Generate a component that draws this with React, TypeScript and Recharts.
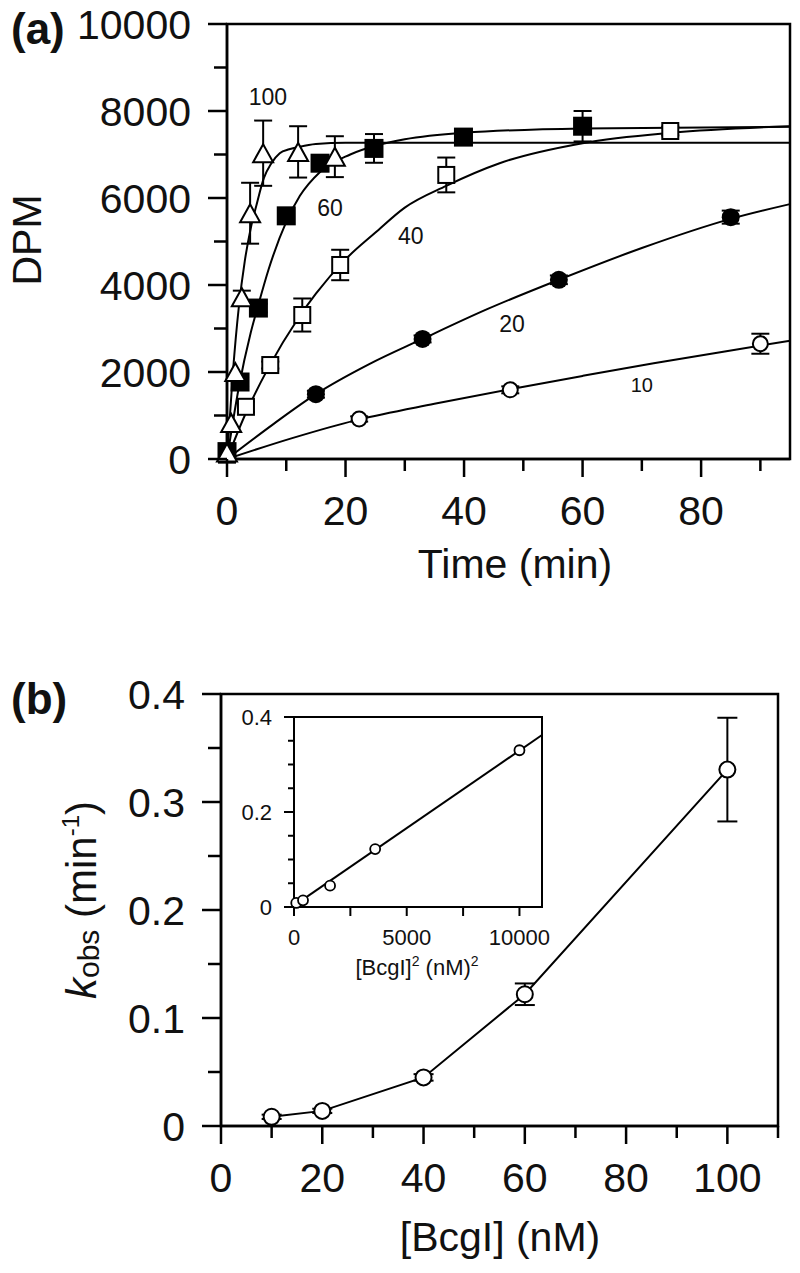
import React from 'react';
import { ComposedChart, Line, Scatter, XAxis, YAxis, ErrorBar, ReferenceArea } from 'recharts';

const FONT = '"Liberation Sans", Arial, Helvetica, sans-serif';

// ---------- panel (a): DPM vs time, one set per [BcgI] (nM) ----------
// measured points (time min, DPM, error)
const t100 = [0, 0.7, 1.4, 2.5, 3.9, 6.1, 12, 18.2];
const dpm100 = [150, 830, 2000, 3720, 5650, 7030, 7060, 6950];
const err100 = [0, 0, 0, 150, 700, 750, 590, 470];

const t60 = [0, 2.2, 5.3, 10, 15.7, 24.8, 39.9, 60];
const dpm60 = [170, 1770, 3470, 5590, 6800, 7140, 7400, 7650];
const err60 = [0, 100, 100, 0, 150, 330, 150, 350];

const t40 = [0, 3.2, 7.3, 12.7, 19.1, 37, 74.8];
const dpm40 = [100, 1200, 2160, 3310, 4460, 6530, 7540];
const err40 = [0, 120, 80, 380, 350, 400, 100];

const t20 = [15, 33, 56, 85];
const dpm20 = [1490, 2760, 4120, 5560];
const err20 = [80, 80, 100, 150];

const t10 = [22.3, 47.8, 90];
const dpm10 = [920, 1590, 2650];
const err10 = [60, 80, 230];

// fitted curves
const fit100T = [0, 1, 2, 3, 4, 5, 6.2, 7.5, 8.9, 10.5, 12.3, 15, 20, 30, 95];
const fit100 = [0, 2000, 3500, 4550, 5300, 5850, 6450, 6800, 7030, 7120, 7180, 7240, 7270, 7270, 7270];
const fit60T = [0, 2, 4, 5.3, 7, 10, 12.3, 15.7, 20.8, 25, 30, 40, 60, 95];
const fit60 = [0, 1650, 2900, 3550, 4350, 5450, 6050, 6600, 7000, 7200, 7350, 7500, 7600, 7640];
const fit40T = [0, 3, 7, 12, 15, 20, 25, 30, 37, 46, 60, 75, 95];
const fit40 = [0, 1000, 2100, 3230, 3800, 4590, 5200, 5780, 6280, 6800, 7260, 7500, 7650];
const fit20T = [0, 8, 15, 24, 33, 44, 56, 70, 85, 95];
const fit20 = [0, 820, 1490, 2180, 2760, 3450, 4120, 4850, 5520, 5860];
const fit10T = [0, 11, 22, 35, 48, 60, 72, 84, 95];
const fit10 = [0, 480, 900, 1270, 1610, 1910, 2200, 2470, 2720];

// curve labels
const curveLabelText = ['100', '60', '40', '20', '10'];
const curveLabelX = [6.9, 17.4, 31, 48.1, 70];
const curveLabelY = [8320, 5770, 5130, 3100, 1700];

const timeTicks = [0, 10, 20, 30, 40, 50, 60, 70, 80, 90];
const timeMajor = [0, 20, 40, 60, 80];
const dpmTicks = [0, 1000, 2000, 3000, 4000, 5000, 6000, 7000, 8000, 9000, 10000];
const dpmMajor = [0, 2000, 4000, 6000, 8000, 10000];

// ---------- panel (b): kobs vs [BcgI] ----------
const conc = [10, 20, 40, 60, 100];
const kobs = [0.0085, 0.014, 0.045, 0.122, 0.33];
const kErr = [0.002, 0.002, 0.003, 0.01, 0.048];

const concTicks = [0, 10, 20, 30, 40, 50, 60, 70, 80, 90, 100, 110];
const concMajor = [0, 20, 40, 60, 80, 100];
const kTicks = [0, 0.05, 0.1, 0.15, 0.2, 0.25, 0.3, 0.35, 0.4];
const kMajor = [0, 0.1, 0.2, 0.3, 0.4];

// inset: kobs vs [BcgI]^2
const concSq = [100, 400, 1600, 3600, 10000];
const fitSqX = [0, 11000];
const fitSqY = [0.003, 0.362];
const sqTicks = [0, 2500, 5000, 7500, 10000];
const sqMajor = [0, 5000, 10000];
const insetKTicks = [0, 0.05, 0.1, 0.15, 0.2, 0.25, 0.3, 0.35, 0.4];
const insetKMajor = [0, 0.2, 0.4];

const toPts = (xs: number[], ys: number[], es?: number[]) =>
  xs.map((x, i) => ({ x, y: ys[i], err: es ? es[i] : 0 }));

const isIn = (arr: number[], v: number) => arr.some((m) => Math.abs(m - v) < 1e-9);

// custom tick: draws its own tick mark (major/minor) and a label for majors
const makeTick =
  (
    side: 'bottom' | 'left',
    majors: number[],
    majorLen: number,
    minorLen: number,
    fontSize: number,
    gap: number,
    fmt: (v: number) => string,
    sw: number
  ) =>
  (props: any) => {
    const { x, y, payload } = props;
    const v = payload.value;
    const major = isIn(majors, v);
    const len = major ? majorLen : minorLen;
    if (side === 'bottom') {
      return (
        <g>
          <line x1={x} y1={y} x2={x} y2={y + len} stroke="#000" strokeWidth={sw} />
          {major && (
            <text x={x} y={y + gap} textAnchor="middle" fontSize={fontSize} fontFamily={FONT} fill="#111">
              {fmt(v)}
            </text>
          )}
        </g>
      );
    }
    return (
      <g>
        <line x1={x - len} y1={y} x2={x} y2={y} stroke="#000" strokeWidth={sw} />
        {major && (
          <text x={x - gap} y={y + fontSize * 0.358} textAnchor="end" fontSize={fontSize} fontFamily={FONT} fill="#111">
            {fmt(v)}
          </text>
        )}
      </g>
    );
  };

const fmtInt = (v: number) => String(v);
const fmtDec = (v: number) => (v === 0 ? '0' : v.toFixed(1));

// marker shapes
const triangle = (p: any) => (
  <polygon
    points={`${p.cx},${p.cy - 9} ${p.cx - 10},${p.cy + 9} ${p.cx + 10},${p.cy + 9}`}
    fill="#fff"
    stroke="#000"
    strokeWidth={2}
  />
);
const filledSquare = (p: any) => <rect x={p.cx - 9.5} y={p.cy - 9.5} width={19} height={19} fill="#000" />;
const openSquare = (p: any) => (
  <rect x={p.cx - 8} y={p.cy - 8} width={16} height={16} fill="#fff" stroke="#000" strokeWidth={2} />
);
const filledCircle = (p: any) => <circle cx={p.cx} cy={p.cy} r={9} fill="#000" />;
const openCircle = (r: number, sw: number) => (p: any) =>
  <circle cx={p.cx} cy={p.cy} r={r} fill="#fff" stroke="#000" strokeWidth={sw} />;

const curveLabel = (p: any) => (
  <text
    x={p.cx}
    y={p.cy + p.payload.size * 0.36}
    textAnchor="middle"
    fontSize={p.payload.size}
    fontFamily={FONT}
    fill="#111"
  >
    {p.payload.text}
  </text>
);

const curveLabels = curveLabelText.map((text, i) => ({
  x: curveLabelX[i],
  y: curveLabelY[i],
  text,
  size: text === '10' ? 20 : 23,
}));

const PanelA = () => (
  <ComposedChart width={800} height={600} margin={{ top: 24, right: 10, bottom: 0, left: 0 }}>
    <XAxis
      dataKey="x"
      type="number"
      domain={[0, 95]}
      ticks={timeTicks}
      interval={0}
      height={141}
      tickSize={0}
      tickMargin={0}
      tickLine={false}
      axisLine={{ stroke: '#000', strokeWidth: 2.5 }}
      tick={makeTick('bottom', timeMajor, 18, 12, 41, 66, fmtInt, 2.5)}
    />
    <YAxis
      dataKey="y"
      type="number"
      domain={[0, 10000]}
      ticks={dpmTicks}
      interval={0}
      width={227}
      tickSize={0}
      tickMargin={0}
      tickLine={false}
      axisLine={{ stroke: '#000', strokeWidth: 2.5 }}
      tick={makeTick('left', dpmMajor, 19, 13, 41, 36, fmtInt, 2.5)}
    />
    <ReferenceArea x1={0} x2={95} y1={0} y2={10000} fill="none" stroke="#000" strokeWidth={2.5} />
    <Line data={toPts(fit10T, fit10)} dataKey="y" type="monotone" stroke="#000" strokeWidth={2} dot={false} isAnimationActive={false} />
    <Line data={toPts(fit20T, fit20)} dataKey="y" type="monotone" stroke="#000" strokeWidth={2} dot={false} isAnimationActive={false} />
    <Line data={toPts(fit40T, fit40)} dataKey="y" type="monotone" stroke="#000" strokeWidth={2} dot={false} isAnimationActive={false} />
    <Line data={toPts(fit60T, fit60)} dataKey="y" type="monotone" stroke="#000" strokeWidth={2} dot={false} isAnimationActive={false} />
    <Line data={toPts(fit100T, fit100)} dataKey="y" type="monotone" stroke="#000" strokeWidth={2} dot={false} isAnimationActive={false} />
    <Scatter data={toPts(t10, dpm10, err10)} shape={openCircle(7.5, 2)} isAnimationActive={false}>
      <ErrorBar dataKey="err" direction="y" width={9} stroke="#000" strokeWidth={2} />
    </Scatter>
    <Scatter data={toPts(t20, dpm20, err20)} shape={filledCircle} isAnimationActive={false}>
      <ErrorBar dataKey="err" direction="y" width={9} stroke="#000" strokeWidth={2} />
    </Scatter>
    <Scatter data={toPts(t40, dpm40, err40)} shape={openSquare} isAnimationActive={false}>
      <ErrorBar dataKey="err" direction="y" width={9} stroke="#000" strokeWidth={2} />
    </Scatter>
    <Scatter data={toPts(t60, dpm60, err60)} shape={filledSquare} isAnimationActive={false}>
      <ErrorBar dataKey="err" direction="y" width={9} stroke="#000" strokeWidth={2} />
    </Scatter>
    <Scatter data={toPts(t100, dpm100, err100)} shape={triangle} isAnimationActive={false}>
      <ErrorBar dataKey="err" direction="y" width={9} stroke="#000" strokeWidth={2} />
    </Scatter>
    <Scatter data={curveLabels} shape={curveLabel} isAnimationActive={false} />
  </ComposedChart>
);

const PanelB = () => (
  <ComposedChart width={800} height={653} margin={{ top: 74, right: 22, bottom: 0, left: 0 }}>
    <XAxis
      dataKey="x"
      type="number"
      domain={[0, 110]}
      ticks={concTicks}
      interval={0}
      height={147}
      tickSize={0}
      tickMargin={0}
      tickLine={false}
      axisLine={{ stroke: '#000', strokeWidth: 2.5 }}
      tick={makeTick('bottom', concMajor, 18, 12, 41, 66, fmtInt, 2.5)}
    />
    <YAxis
      dataKey="y"
      type="number"
      domain={[0, 0.4]}
      ticks={kTicks}
      interval={0}
      width={221}
      tickSize={0}
      tickMargin={0}
      tickLine={false}
      axisLine={{ stroke: '#000', strokeWidth: 2.5 }}
      tick={makeTick('left', kMajor, 19, 13, 41, 36, fmtDec, 2.5)}
    />
    <ReferenceArea x1={0} x2={110} y1={0} y2={0.4} fill="none" stroke="#000" strokeWidth={2.5} />
    <Line data={toPts(conc, kobs)} dataKey="y" type="linear" stroke="#000" strokeWidth={2} dot={false} isAnimationActive={false} />
    <Scatter data={toPts(conc, kobs, kErr)} shape={openCircle(8, 2)} isAnimationActive={false}>
      <ErrorBar dataKey="err" direction="y" width={10} stroke="#000" strokeWidth={2} />
    </Scatter>
  </ComposedChart>
);

const Inset = () => (
  <ComposedChart width={330} height={280} margin={{ top: 17, right: 18, bottom: 0, left: 0 }}>
    <XAxis
      dataKey="x"
      type="number"
      domain={[0, 11000]}
      ticks={sqTicks}
      interval={0}
      height={73}
      tickSize={0}
      tickMargin={0}
      tickLine={false}
      axisLine={{ stroke: '#000', strokeWidth: 2 }}
      tick={makeTick('bottom', sqMajor, 9, 9, 22, 38, fmtInt, 2)}
    />
    <YAxis
      dataKey="y"
      type="number"
      domain={[0, 0.4]}
      ticks={insetKTicks}
      interval={0}
      width={64}
      tickSize={0}
      tickMargin={0}
      tickLine={false}
      axisLine={{ stroke: '#000', strokeWidth: 2 }}
      tick={makeTick('left', insetKMajor, 10, 6, 22, 22, fmtDec, 2)}
    />
    <ReferenceArea x1={0} x2={11000} y1={0} y2={0.4} fill="none" stroke="#000" strokeWidth={2} />
    <Line data={toPts(fitSqX, fitSqY)} dataKey="y" type="linear" stroke="#000" strokeWidth={2} dot={false} isAnimationActive={false} />
    <Scatter data={toPts(concSq, kobs)} shape={openCircle(5, 1.8)} isAnimationActive={false} />
  </ComposedChart>
);

const Titles = () => (
  <svg width={800} height={1273} style={{ position: 'absolute', left: 0, top: 0, pointerEvents: 'none' }}>
    <g fontFamily={FONT} fill="#111">
      <text x={11} y={44} fontSize={44} fontWeight="bold">(a)</text>
      <text x={41} y={240} fontSize={41} textAnchor="middle" transform="rotate(-90 41 240)">DPM</text>
      <text x={515} y={578} fontSize={41} textAnchor="middle">Time (min)</text>

      <text x={11} y={714} fontSize={44} fontWeight="bold">(b)</text>
      <text x={96} y={900} fontSize={42} textAnchor="middle" transform="rotate(-90 96 900)">
        <tspan fontStyle="italic">k</tspan>
        <tspan fontSize={30} dy={3}>obs</tspan>
        <tspan dy={-3}> (min</tspan>
        <tspan fontSize={24} dy={-17}>-1</tspan>
        <tspan dy={17}>)</tspan>
      </text>
      <text x={500} y={1251} fontSize={41} textAnchor="middle">[BcgI] (nM)</text>

      <text x={417} y={975} fontSize={22} textAnchor="middle">
        <tspan>[BcgI]</tspan>
        <tspan fontSize={14} dy={-9}>2</tspan>
        <tspan dy={9}> (nM)</tspan>
        <tspan fontSize={14} dy={-9}>2</tspan>
      </text>
    </g>
  </svg>
);

export default function App() {
  return (
    <div style={{ position: 'absolute', left: 0, top: 0, width: 800, height: 1273, background: '#fff', fontFamily: FONT }}>
      <div style={{ position: 'absolute', left: 0, top: 0 }}>
        <PanelA />
      </div>
      <div style={{ position: 'absolute', left: 0, top: 620 }}>
        <PanelB />
      </div>
      <div style={{ position: 'absolute', left: 230, top: 700 }}>
        <Inset />
      </div>
      <Titles />
    </div>
  );
}
